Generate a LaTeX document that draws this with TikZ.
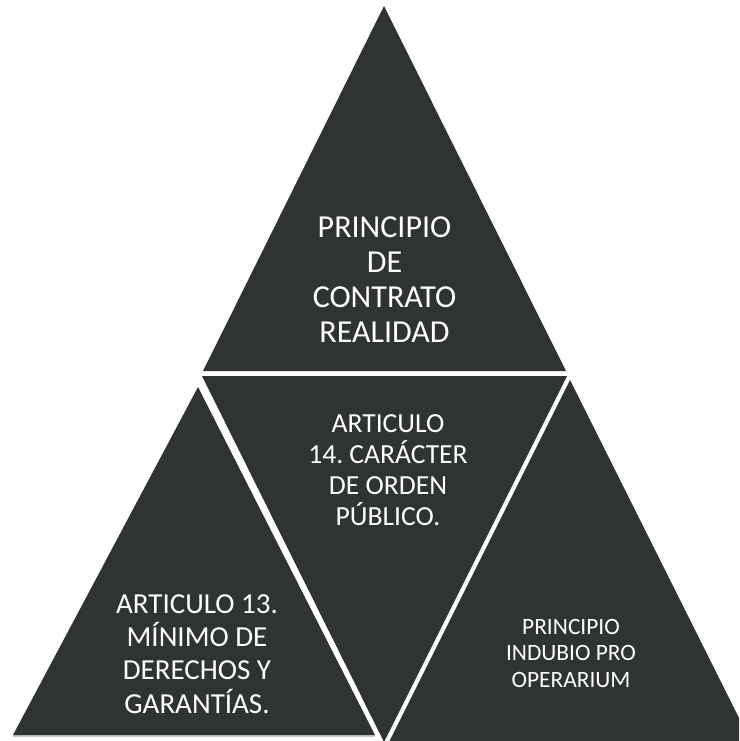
\documentclass[tikz,border=0pt]{standalone}
\usepackage{fontspec}
\setmainfont{Carlito}
\frenchspacing
\definecolor{slab}{RGB}{47,51,50}
\definecolor{rim}{RGB}{200,200,200}
\begin{document}
\begin{tikzpicture}[x=1pt,y=-1pt,
  piece/.style={fill=slab,draw=none},
  label/.style={text=white,align=center,inner sep=0pt,anchor=base}]
\useasboundingbox (0,0) rectangle (739,741);
\clip (0,0) rectangle (739,741);
% four triangles of the pyramid
\fill[piece] (384,6) -- (566,371) -- (203,371) -- cycle;
\fill[piece] (202,376) -- (567,376) -- (384,742) -- cycle;
\draw[rim,line width=1.2pt] (13,736) -- (375,736);
\fill[piece] (198,387) -- (375,735) -- (13,735) -- cycle;
\fill[piece] (570,380) -- (764,768) -- (376,768) -- cycle;
% texts, each anchored at the baseline of its last line
\node[label,font=\fontsize{32}{35}\selectfont] (top) at (384.5,342)
  {PRINCIPIO\\DE\\CONTRATO\\REALIDAD};
\node[label,font=\fontsize{27.6}{30.8}\selectfont] (mid) at (388,525)
  {ARTICULO\\14. CARÁCTER\\DE ORDEN\\PÚBLICO.};
\node[label,font=\fontsize{29}{33.3}\selectfont] (left) at (197,713)
  {ARTICULO 13.\\MÍNIMO DE\\DERECHOS Y\\GARANTÍAS.};
\node[label,font=\fontsize{23.4}{26.5}\selectfont] (right) at (571,687)
  {PRINCIPIO\\INDUBIO PRO\\OPERARIUM};
\end{tikzpicture}
\end{document}
